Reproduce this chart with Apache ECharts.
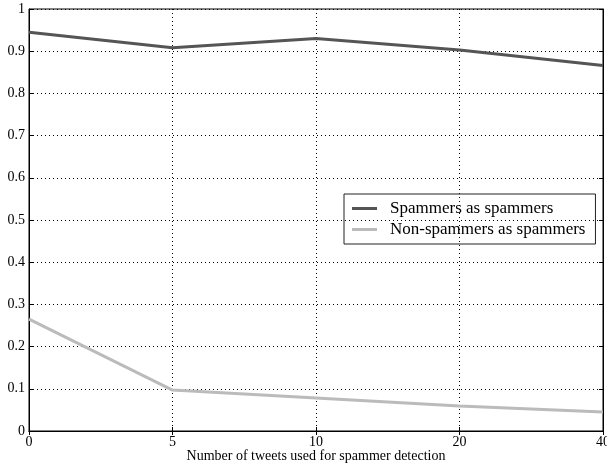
<!DOCTYPE html>
<html>
<head>
<meta charset="utf-8">
<script src="https://cdn.jsdelivr.net/npm/echarts@6/dist/echarts.min.js"></script>
<style>
  html, body { margin: 0; padding: 0; background: #fff; }
  #chart { width: 607px; height: 464px; }
</style>
</head>
<body>
<div id="chart"></div>
<script>
const tweetCounts = ['0', '5', '10', '20', '40'];
const spammersAsSpammers = [0.945, 0.908, 0.930, 0.903, 0.866];
const nonSpammersAsSpammers = [0.265, 0.097, 0.078, 0.059, 0.045];

const FONT = '"Liberation Serif", "DejaVu Serif", serif';

const chart = echarts.init(document.getElementById('chart'));

const dotted = { show: true, lineStyle: { color: '#000', type: [1, 3], width: 1 } };

chart.setOption({
  animation: false,
  textStyle: { fontFamily: FONT },
  grid: {
    left: 29, right: 4, top: 9, bottom: 33,
    containLabel: false,
    outerBoundsMode: 'none',
    show: true, borderColor: '#000', borderWidth: 1,
  },
  legend: {
    orient: 'vertical',
    left: 344, top: 194,
    padding: [6, 10, 6, 8],
    borderColor: '#222', borderWidth: 1,
    itemWidth: 25, itemHeight: 3, itemGap: 4,
    icon: 'rect',
    textStyle: { fontFamily: FONT, fontSize: 17, color: '#000', padding: [0, 0, 0, 8] },
    data: ['Spammers as spammers', 'Non-spammers as spammers'],
  },
  xAxis: [
    {
      type: 'category',
      data: tweetCounts,
      boundaryGap: false,
      name: 'Number of tweets used for spammer detection',
      nameLocation: 'middle',
      nameGap: 18,
      nameMoveOverlap: false,
      nameTextStyle: { fontFamily: FONT, fontSize: 14, color: '#000' },
      axisLine: { lineStyle: { color: '#000' } },
      axisTick: { inside: true, length: 4, lineStyle: { color: '#000' } },
      axisLabel: { fontFamily: FONT, fontSize: 14, color: '#000', margin: 4 },
      splitLine: dotted,
    },
    {
      type: 'category',
      data: tweetCounts,
      boundaryGap: false,
      position: 'top',
      axisLine: { lineStyle: { color: '#000' } },
      axisTick: { inside: true, length: 4, lineStyle: { color: '#000' } },
      axisLabel: { show: false },
    },
  ],
  yAxis: [
    {
      type: 'value',
      min: 0, max: 1, interval: 0.1,
      axisLine: { show: true, lineStyle: { color: '#000' } },
      axisTick: { show: true, inside: true, length: 4, lineStyle: { color: '#000' } },
      axisLabel: {
        fontFamily: FONT, fontSize: 14, color: '#000', margin: 4,
        formatter: v => (v === 0 || v === 1) ? String(v) : v.toFixed(1),
      },
      splitLine: dotted,
    },
    {
      type: 'value',
      min: 0, max: 1, interval: 0.1,
      position: 'right',
      axisLine: { show: true, lineStyle: { color: '#000' } },
      axisTick: { show: true, inside: true, length: 4, lineStyle: { color: '#000' } },
      axisLabel: { show: false },
      splitLine: { show: false },
    },
  ],
  series: [
    {
      name: 'Spammers as spammers',
      type: 'line',
      data: spammersAsSpammers,
      symbol: 'none',
      color: '#555555',
      lineStyle: { width: 3, color: '#555555' },
    },
    {
      name: 'Non-spammers as spammers',
      type: 'line',
      data: nonSpammersAsSpammers,
      symbol: 'none',
      color: '#bbbbbb',
      lineStyle: { width: 3, color: '#bbbbbb' },
    },
  ],
});
</script>
</body>
</html>
